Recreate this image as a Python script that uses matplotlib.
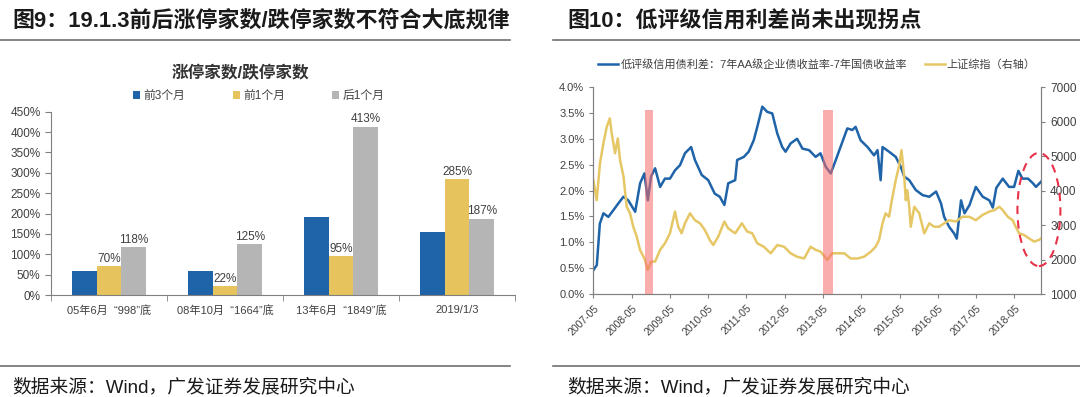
import matplotlib
matplotlib.use('Agg')
import matplotlib.pyplot as plt
import matplotlib.dates as mdates
from matplotlib.patches import Ellipse
from matplotlib.lines import Line2D
import numpy as np
import pandas as pd

plt.rcParams['font.family'] = ['Liberation Sans', 'Noto Sans CJK SC']

# ---- 图9 数据 ----
categories = ['05年6月  “998”底', '08年10月  “1664”底', '13年6月  “1849”底', '2019/1/3']
bar_names = ['前3个月', '前1个月', '后1个月']
prev_3m = [59, 60, 192, 155]
prev_1m = [70, 22, 95, 285]
next_1m = [118, 125, 413, 187]

# ---- 图10 数据 ----
spread_dates = ['2007-05-01', '2007-06-03', '2007-07-02', '2007-08-05', '2007-09-21', '2007-11-08',
                '2007-12-25', '2008-02-12', '2008-03-29', '2008-06-03', '2008-07-20', '2008-08-30',
                '2008-10-02', '2008-11-01', '2008-12-10', '2009-01-27', '2009-03-14', '2009-05-01',
                '2009-06-18', '2009-08-05', '2009-09-21', '2009-11-19', '2009-12-25', '2010-02-28',
                '2010-05-01', '2010-07-02', '2010-08-19', '2010-10-02', '2010-11-08', '2011-01-13',
                '2011-02-01', '2011-04-06', '2011-05-22', '2011-07-09', '2011-08-12', '2011-09-29',
                '2011-11-15', '2012-01-02', '2012-02-19', '2012-04-06', '2012-05-08', '2012-06-25',
                '2012-08-26', '2012-10-16', '2012-12-18', '2013-02-19', '2013-04-06', '2013-05-26',
                '2013-07-13', '2013-08-30', '2013-11-01', '2013-12-18', '2014-02-04', '2014-03-07',
                '2014-04-24', '2014-06-29', '2014-08-30', '2014-10-02', '2014-11-01', '2014-11-19',
                '2015-01-20', '2015-03-25', '2015-05-12', '2015-06-14', '2015-08-01', '2015-10-02',
                '2015-12-07', '2016-02-08', '2016-04-13', '2016-05-30', '2016-06-29', '2016-08-15',
                '2016-10-02', '2016-10-27', '2016-12-07', '2017-01-09', '2017-02-26', '2017-04-27',
                '2017-07-02', '2017-09-03', '2017-10-06', '2017-11-08', '2018-01-09', '2018-03-10',
                '2018-04-27', '2018-06-07', '2018-07-16', '2018-09-07', '2018-10-24', '2018-11-22',
                '2019-01-09']
spread_values = [0.46, 0.56, 1.36, 1.56, 1.49, 1.62,
                 1.75, 1.88, 1.81, 1.59, 2.14, 2.33,
                 1.81, 2.27, 2.43, 2.07, 2.23, 2.23,
                 2.39, 2.49, 2.72, 2.84, 2.59, 2.30,
                 2.20, 1.94, 1.88, 1.72, 2.14, 2.20,
                 2.59, 2.65, 2.75, 2.97, 3.23, 3.62,
                 3.52, 3.49, 3.10, 2.84, 2.75, 2.91,
                 3.00, 2.81, 2.78, 2.65, 2.72, 2.46,
                 2.33, 2.59, 2.94, 3.20, 3.17, 3.23,
                 2.97, 2.84, 2.68, 2.78, 2.20, 2.84,
                 2.75, 2.65, 2.46, 2.27, 2.20, 2.01,
                 1.91, 1.88, 1.98, 1.75, 1.49, 1.30,
                 1.17, 1.07, 1.81, 1.56, 1.72, 2.07,
                 1.88, 1.81, 1.67, 2.05, 2.23, 2.07,
                 2.07, 2.38, 2.23, 2.23, 2.14, 2.07,
                 2.17]

index_dates = ['2007-05-01', '2007-06-02', '2007-07-03', '2007-08-05', '2007-09-06', '2007-10-05',
               '2007-10-23', '2007-11-24', '2007-12-20', '2008-01-11', '2008-02-13', '2008-03-14',
               '2008-04-15', '2008-05-16', '2008-06-18', '2008-07-19', '2008-08-30', '2008-10-01',
               '2008-11-02', '2008-12-10', '2009-01-27', '2009-03-14', '2009-05-01', '2009-06-18',
               '2009-07-19', '2009-08-20', '2009-09-21', '2009-11-08', '2009-12-25', '2010-02-11',
               '2010-03-29', '2010-05-15', '2010-06-18', '2010-08-04', '2010-10-02', '2010-11-08',
               '2011-01-13', '2011-03-18', '2011-05-08', '2011-06-25', '2011-08-12', '2011-10-13',
               '2011-12-18', '2012-02-19', '2012-04-24', '2012-06-25', '2012-08-26', '2012-11-01',
               '2013-01-02', '2013-02-19', '2013-04-06', '2013-06-10', '2013-07-27', '2013-09-14',
               '2013-11-19', '2014-01-20', '2014-03-25', '2014-05-26', '2014-08-01', '2014-09-14',
               '2014-10-17', '2014-11-19', '2014-12-18', '2015-01-20', '2015-02-22', '2015-03-25',
               '2015-04-24', '2015-05-19', '2015-06-14', '2015-06-29', '2015-07-13', '2015-08-01',
               '2015-08-15', '2015-09-18', '2015-11-04', '2015-12-22', '2016-02-08', '2016-03-25',
               '2016-05-12', '2016-06-29', '2016-08-15', '2016-10-17', '2016-12-22', '2017-02-23',
               '2017-04-27', '2017-06-29', '2017-09-03', '2017-10-20', '2017-12-07', '2018-01-09',
               '2018-02-26', '2018-04-13', '2018-05-12', '2018-06-14', '2018-08-01', '2018-09-18',
               '2018-11-04', '2018-12-22', '2019-01-09']
index_values = [4300, 3720, 4790, 5370, 5850, 6090,
                5660, 5080, 5510, 4880, 4400, 3530,
                3340, 2950, 2660, 2280, 2030, 1700,
                1940, 1940, 2280, 2470, 2760, 3390,
                2950, 2760, 3050, 3340, 3140, 3050,
                2860, 2570, 2420, 2660, 3100, 2900,
                2760, 3050, 2810, 2760, 2470, 2370,
                2180, 2420, 2370, 2180, 2080, 2030,
                2370, 2280, 2230, 1990, 2180, 2180,
                2180, 2030, 2030, 2080, 2230, 2370,
                2570, 3050, 3340, 3240, 3820, 4300,
                4690, 5170, 4400, 3720, 4010, 3530,
                2950, 3530, 3340, 2760, 3050, 2950,
                2950, 3050, 3140, 3100, 3240, 3240,
                3140, 3290, 3390, 3430, 3530, 3430,
                3240, 3140, 2950, 2760, 2710, 2610,
                2520, 2570, 2610]

# 红色阴影区间
band_starts = ['2008-09-01', '2013-05-01']
band_ends = ['2008-11-19', '2013-08-07']
band_top = 3.55
# 红色虚线圈
ellipse_center = '2018-12-20'
ellipse_mid = 3450
ellipse_days = 410
ellipse_height = 3280

blue = '#1f63a8'
yellow = '#e6c35c'
gray = '#b5b5b5'
line_yellow = '#e6c766'
txt = '#404040'
spine = '#808080'

fig = plt.figure(figsize=(10.8, 3.97), dpi=100)

# ---------------- 图9 ----------------
ax = fig.add_axes([0.0472, 0.2569, 0.4296, 0.4617])
x = np.arange(len(categories))
w = 0.213
b1 = ax.bar(x - w, prev_3m, w, color=blue, label=bar_names[0])
b2 = ax.bar(x, prev_1m, w, color=yellow, label=bar_names[1])
b3 = ax.bar(x + w, next_1m, w, color=gray, label=bar_names[2])
ax.bar_label(b2, labels=[f'{v}%' for v in prev_1m], padding=1, fontsize=8.5, color=txt)
ax.bar_label(b3, labels=[f'{v}%' for v in next_1m], padding=1, fontsize=8.5, color=txt)
ax.set_xlim(-0.5, len(categories) - 0.5)
ax.set_ylim(0, 450)
ax.set_yticks(range(0, 451, 50))
ax.set_yticklabels([f'{v}%' for v in range(0, 451, 50)])
ax.set_xticks(x)
ax.set_xticklabels(categories)
ax.set_xticks(np.arange(-0.5, len(categories)), minor=True)
ax.tick_params(axis='x', which='major', length=0, labelsize=8, labelcolor=txt, pad=7)
ax.tick_params(axis='x', which='minor', length=4, color=spine, direction='out')
ax.tick_params(axis='y', length=4, color=spine, labelsize=8.5, labelcolor=txt)
for s in ['top', 'right']:
    ax.spines[s].set_visible(False)
for s in ['left', 'bottom']:
    ax.spines[s].set_color(spine)
ax.legend(loc='center', bbox_to_anchor=(259 / 1080, 1 - 96 / 397), bbox_transform=fig.transFigure,
          ncol=3, frameon=False, fontsize=8.5, handlelength=0.6, handleheight=0.6,
          handletextpad=0.3, columnspacing=4.0, labelcolor=txt)
fig.text(240 / 1080, 1 - 73 / 397, '涨停家数/跌停家数', ha='center', va='center',
         fontsize=12, fontweight='bold', color='#333333')

# ---------------- 图10 ----------------
ax1 = fig.add_axes([0.5494, 0.2594, 0.4145, 0.5214])
sd = pd.to_datetime(spread_dates)
idd = pd.to_datetime(index_dates)
ax1.plot(sd, spread_values, color=blue, lw=1.8,
         label='低评级信用债利差：7年AA级企业债收益率-7年国债收益率')
ax1.set_ylim(0, 4.0)
ax1.set_yticks(np.arange(0, 4.01, 0.5))
ax1.set_yticklabels([f'{v:.1f}%' for v in np.arange(0, 4.01, 0.5)])
ax1.set_xlim(sd[0], sd[-1])
ticks = pd.date_range('2007-05-01', '2018-05-01', freq='12MS')
ax1.set_xticks(ticks)
ax1.set_xticklabels([t.strftime('%Y-%m') for t in ticks], rotation=45, ha='right',
                    rotation_mode='anchor')
ax1.tick_params(axis='x', length=3, color=spine, labelsize=7.5, labelcolor=txt)
ax1.tick_params(axis='y', length=3, color=spine, labelsize=8, labelcolor=txt)

ax2 = ax1.twinx()
ax2.plot(idd, index_values, color=line_yellow, lw=1.8, label='上证综指（右轴）')
ax2.set_ylim(1000, 7000)
ax2.set_yticks(range(1000, 7001, 1000))
ax2.tick_params(axis='y', length=3, color=spine, labelsize=8.5, labelcolor=txt)
for a in (ax1, ax2):
    a.spines['top'].set_visible(False)
    for s in ['left', 'right', 'bottom']:
        a.spines[s].set_color(spine)

for s0, s1 in zip(band_starts, band_ends):
    ax2.axvspan(pd.Timestamp(s0), pd.Timestamp(s1), ymin=0, ymax=band_top / 4.0,
                color='#f56b6b', alpha=0.55, lw=0, zorder=5)

ell = Ellipse((mdates.date2num(pd.Timestamp(ellipse_center)), ellipse_mid),
              width=ellipse_days, height=ellipse_height, fill=False,
              ec='#e8324a', lw=1.5, ls=(0, (4, 3)), clip_on=False, zorder=6)
ax2.add_patch(ell)

h1, l1 = ax1.get_legend_handles_labels()
h2, l2 = ax2.get_legend_handles_labels()
fig.legend(h1 + h2, l1 + l2, loc='center', bbox_to_anchor=(817 / 1080, 1 - 64 / 397),
           ncol=2, frameon=False, fontsize=8, handlelength=1.8, handletextpad=0.2,
           columnspacing=1.6, labelcolor=txt)

# ---------------- 标题/来源 ----------------
fig.text(12 / 1080, 1 - 22 / 397, '图9：19.1.3前后涨停家数/跌停家数不符合大底规律',
         ha='left', va='center', fontsize=15.8, fontweight='bold', color='#1a1a1a')
fig.text(567 / 1080, 1 - 22 / 397, '图10：低评级信用利差尚未出现拐点',
         ha='left', va='center', fontsize=15.8, fontweight='bold', color='#1a1a1a')
for x0, x1 in [(0, 510 / 1080), (553 / 1080, 1)]:
    for yy in [1 - 39.5 / 397, 1 - 365.5 / 397]:
        fig.add_artist(Line2D([x0, x1], [yy, yy], transform=fig.transFigure,
                              color='#707070', lw=1.2))
fig.text(12 / 1080, 1 - 387 / 397, '数据来源：Wind，广发证券发展研究中心',
         ha='left', va='center', fontsize=13.5, color='#1a1a1a')
fig.text(567 / 1080, 1 - 387 / 397, '数据来源：Wind，广发证券发展研究中心',
         ha='left', va='center', fontsize=13.5, color='#1a1a1a')

fig.savefig('out.png', dpi=100)
